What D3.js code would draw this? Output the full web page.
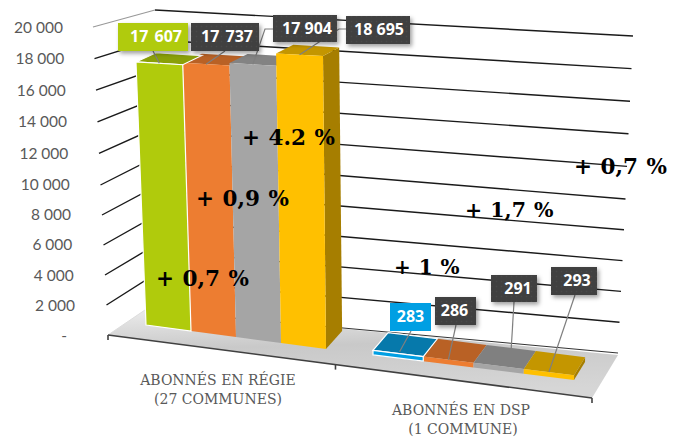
<!DOCTYPE html>
<html><head><meta charset="utf-8">
<script src="https://cdn.jsdelivr.net/npm/d3@7"></script>
<style>html,body{margin:0;padding:0;background:#fff}svg{display:block}</style>
</head><body><div id="c"></div>
<script>
// ---- data ----
const categories = [["ABONNÉS EN RÉGIE","(27 COMMUNES)"],["ABONNÉS EN DSP","(1 COMMUNE)"]];
const regieValues = [17607,17737,17904,18695];
const dspValues = [283,286,291,293];
const tickValues = [0,2000,4000,6000,8000,10000,12000,14000,16000,18000,20000];
const tickLabels = ["-","2 000","4 000","6 000","8 000","10 000","12 000","14 000","16 000","18 000","20 000"];
const growthLabels = ["+ 0,7 %","+ 0,9 %","+ 4.2 %","+ 1 %","+ 1,7 %","+ 0,7 %"];
// ---- layout & styles ----
const W=680,H=437,vMax=20000;
const barFront=["#b0cb0c","#ed7d31","#a5a5a5","#ffc000"];
const barTop=["#8aa008","#b96125","#838383","#c49600"];
const barSide=["#7f9208","#a85820","#777777","#a67e00"];
const dspFront=["#009fe3","#ed7d31","#a5a5a5","#ffc000"];
const dspTop=["#0679ab","#b96125","#808080","#c49600"];
const regieBoxes=[[118,23,70,28],[191,23,68,28],[273,15,64,27],[346,16,64,28]];
const dspBoxes=[[390,303,41,28],[435,297,41,28],[491,275,46,27],[551,267,46,28]];
const regieLeaders=[[[153,51]],[[225,51]],[[273,29],[265,29]],[[346,29],[339,29]]];
const dspLeaders=[[[411,331]],[[456,325]],[[514,302]],[[575,295]]];
const regieTextDx=[3,2,2,1], dspTextDx=[0,-1,4,3];
const regieWordGap=[2,2,0,0];
const regieLeaderDepth=[0,0,0,0], dspLeaderDepth=[0.1,0,1,0];
const growthPos=[[156,286],[196,206],[242,145],[394,274],[465,217],[574,174]];
const growthSize=[21.5,21.5,21.5,20,20.5,21.5];

const svg=d3.select("#c").append("svg").attr("width",W).attr("height",H);
const defs=svg.append("defs");
const fg=defs.append("linearGradient").attr("id","floor").attr("x1",0).attr("y1",0).attr("x2",0.15).attr("y2",1);
fg.append("stop").attr("offset",0).attr("stop-color","#ececec");
fg.append("stop").attr("offset",0.45).attr("stop-color","#c9c9c9");
fg.append("stop").attr("offset",1).attr("stop-color","#d6d6d6");
const pat=defs.append("pattern").attr("id","dots").attr("width",5).attr("height",5).attr("patternUnits","userSpaceOnUse");
pat.append("rect").attr("width",5).attr("height",5).attr("fill","#404040");
pat.append("circle").attr("cx",1.5).attr("cy",1.5).attr("r",.8).attr("fill","#4a4a4a");
const sh=defs.append("filter").attr("id","sh").attr("x","-20%").attr("y","-20%").attr("width","150%").attr("height","150%");
sh.append("feDropShadow").attr("dx",2).attr("dy",2.5).attr("stdDeviation",2).attr("flood-color","#000").attr("flood-opacity",.38);

// wall scales
const frontX=d3.scaleLinear().domain([0,vMax]).range([108,93]);
const frontY=d3.scaleLinear().domain([0,10000,vMax]).range([335,185,27]);
const backX=d3.scaleLinear().domain([0,vMax]).range([145,155]);
const backY=d3.scaleLinear().domain([0,vMax]).range([310,10]);
const rightX=d3.scaleLinear().domain([0,vMax]).range([618,633]);
const rightY=d3.scaleLinear().domain([0,10000,vMax]).range([353,199,36]);

// floor
const floorPts=[[frontX(0),frontY(0)],[backX(0),backY(0)],[rightX(0),rightY(0)+2],[592,398]];
const line=d3.line();
svg.append("path").attr("d",line(floorPts)+"Z").attr("fill","url(#floor)");
// grid
const grid=svg.append("g").attr("fill","none").attr("stroke","#1a1a1a").attr("stroke-width",1.4);
tickValues.slice(1).forEach(v=>{
  if(v===vMax){
    grid.append("path").attr("d",line([[frontX(v),frontY(v)],[backX(v),backY(v)]])).attr("stroke","#999").attr("stroke-width",1.2);
    grid.append("path").attr("d",line([[backX(v),backY(v)],[rightX(v),rightY(v)]]));
  } else {
    grid.append("path").attr("d",line([[frontX(v),frontY(v)],[backX(v),backY(v)],[rightX(v),rightY(v)]]));
  }
});
svg.append("path").attr("d",line([[frontX(0),frontY(0)],[backX(0),backY(0)]])).attr("stroke","#ddd").attr("fill","none");
svg.append("path").attr("d",line([[backX(0),backY(0)],[rightX(0),rightY(0)]])).attr("stroke","#333").attr("stroke-width",1).attr("fill","none");
// tick labels
const tickLabelX=d3.scaleLinear().domain([2000,vMax]).range([75,63]);
const tickLabelY=d3.scaleLinear().domain([0,10000,vMax]).range([337,186,29]);
svg.append("g").selectAll("text").data(tickValues).join("text")
 .attr("x",d=>d===0?67:tickLabelX(d)).attr("y",d=>tickLabelY(d)).attr("text-anchor","end").attr("dominant-baseline","middle")
 .attr("font-family","Lato").attr("font-size",15.5).attr("fill","#595959").text((d,i)=>tickLabels[i]);

// bar plane
const slotX=d3.scaleLinear().domain([0,4,5,9]).range([146,326,373,574]);
const baseY=d3.scaleLinear().domain([146,326,574]).range([325,349,380]);
const lean=d3.scaleLinear().domain([146,326,574]).range([-11.4,-3.2,8]);
const unit=d3.scaleLinear().domain([146,326,574]).range([.01494,.01567,.0165]);
const P=(s,v)=>{const x=slotX(s);return [x+lean(x)*v/vMax,baseY(x)-unit(x)*v];};
const depthX=d3.scaleLinear().domain([137,575]).range([20,11]);
const depthY=d3.scaleLinear().domain([0,vMax]).range([-18,-8]);
const B=(s,v)=>{const p=P(s,v);return [p[0]+depthX(p[0]),p[1]+depthY(v)];};

function bar(g,s,v,front,top,side,outline){
  if(side) g.append("path").attr("d",line([P(s+1,0),P(s+1,v),B(s+1,v),B(s+1,0)])+"Z").attr("fill",side);
  g.append("path").attr("d",line([P(s,v),P(s+1,v),B(s+1,v),B(s,v)])+"Z").attr("fill",top).attr("stroke",outline||"none").attr("stroke-width",outline?1.2:0);
  g.append("path").attr("d",line([P(s,0),P(s+1,0),P(s+1,v),P(s,v)])+"Z").attr("fill",front).attr("stroke",outline||"none").attr("stroke-width",outline?1.2:0);
}
const bars=svg.append("g");
regieValues.forEach((v,i)=>{ if(i!==0) bar(bars,i,v,barFront[i],barTop[i],i===3?barSide[i]:null,null); });
bar(bars,0,regieValues[0],barFront[0],barTop[0],null,"#fff");
dspValues.forEach((v,i)=>{ if(i!==0) bar(bars,5+i,v,dspFront[i],dspTop[i],i===3?"#a67e00":null,null); });
bar(bars,5,dspValues[0],dspFront[0],dspTop[0],null,"#fff");

// axis line
const ax=svg.append("g").attr("stroke","#404040").attr("fill","none");
ax.append("path").attr("d",line([floorPts[0],floorPts[3]])).attr("stroke-width",1.6);
const axisAt=d3.scaleLinear().domain([0,1]).range([floorPts[0],floorPts[3]]).interpolate(d3.interpolateArray);
[0,.47,1].forEach(t=>{const p=axisAt(t);ax.append("path").attr("d",line([p,[p[0],p[1]+5]])).attr("stroke-width",1.6);});

// category labels
const catPos=[218,461],catY=[385,415];
categories.forEach((c,i)=>{
  svg.append("g").selectAll("text").data(c).join("text")
   .attr("x",(d,j)=>catPos[i]+(i&&j?2:0)).attr("y",(d,j)=>catY[i]+j*19).attr("text-anchor","middle")
   .attr("font-family","'DejaVu Serif'").attr("font-size",14).attr("fill","#595959").text(d=>d);
});

// data labels
function labels(vals,boxes,leaders,firstFill,target,dxs,gaps){
  const g=svg.append("g");
  vals.forEach((v,i)=>{
    g.append("path").attr("d",line(leaders[i].concat([target(i,v)]))).attr("fill","none").attr("stroke","#7f7f7f").attr("stroke-width",1.2);
  });
  vals.forEach((v,i)=>{
    const b=boxes[i];
    g.append("rect").attr("x",b[0]).attr("y",b[1]).attr("width",b[2]).attr("height",b[3])
      .attr("fill",i===0?firstFill:"url(#dots)").attr("filter",(i===0&&vals===dspValues)?null:"url(#sh)");
    g.append("text").attr("x",b[0]+b[2]/2+dxs[i]).attr("y",b[1]+b[3]/2+1).attr("text-anchor","middle").attr("dominant-baseline","middle")
      .attr("font-family","'Open Sans'").attr("font-weight",700).attr("font-size",16).attr("fill","#fff")
      .style("word-spacing",(gaps?gaps[i]:0)+"px")
      .text(d3.format(",")(v).replace(","," "));
  });
}
const edge=(s,v,r)=>{const a=P(s+.5,v),b=B(s+.5,v);return [a[0]+(b[0]-a[0])*r,a[1]+(b[1]-a[1])*r];};
labels(regieValues,regieBoxes,regieLeaders,"#b0cb0c",(i,v)=>edge(i,v,regieLeaderDepth[i]),regieTextDx,regieWordGap);
labels(dspValues,dspBoxes,dspLeaders,"#009fe3",(i,v)=>edge(5+i,v,dspLeaderDepth[i]),dspTextDx,null);

// growth
svg.append("g").selectAll("text").data(growthLabels).join("text")
 .attr("x",(d,i)=>growthPos[i][0]).attr("y",(d,i)=>growthPos[i][1])
 .attr("font-family","'DejaVu Serif'").attr("font-weight",700).attr("font-size",(d,i)=>growthSize[i]).attr("fill","#000")
 .style("word-spacing","1px").text(d=>d);
</script></body></html>
